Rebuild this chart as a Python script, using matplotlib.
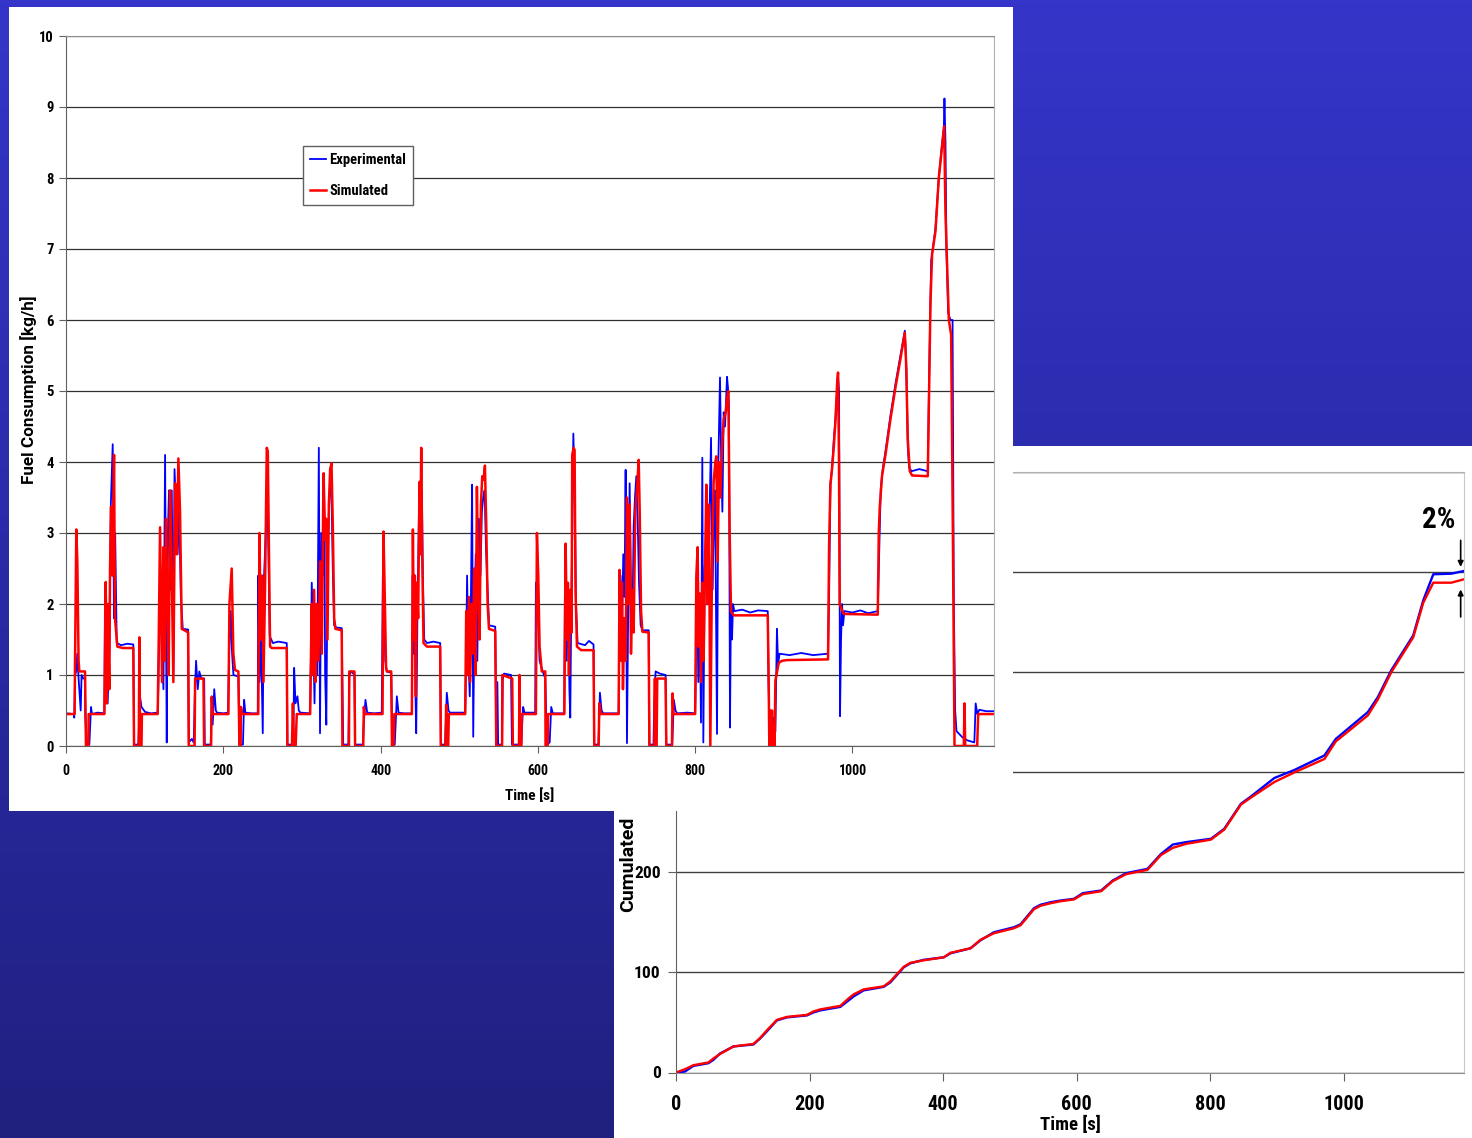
import numpy as np
import matplotlib.pyplot as plt
from matplotlib import font_manager
from matplotlib.patches import Rectangle
from matplotlib.colors import LinearSegmentedColormap

# condensed face for the numbers if one is installed, else plain Arial-like
installed = {f.name for f in font_manager.fontManager.ttflist}
narrow = next((n for n in ['Liberation Sans Narrow', 'Roboto Condensed', 'Open Sans Condensed']
               if n in installed), None)
if narrow:
    plt.rcParams['font.family'] = [narrow, 'DejaVu Sans']
    k = 1.0
else:
    plt.rcParams['font.family'] = ['Liberation Sans', 'DejaVu Sans']
    k = 0.88
plt.rcParams['font.weight'] = 'bold'
label_font = ['Roboto', 'Liberation Sans', 'DejaVu Sans']

# fuel consumption [kg/h] as (time [s], value) pairs
exp_ece1 = [(0, 0.46), (10, 0.45), (10.5, 0.40), (11.5, 1.0), (13, 1.05), (14.4, 1.3), (16, 0.95),
            (18.7, 0.5), (19.8, 1.0), (22, 0.95), (24, 0.95), (24.5, 0.45), (26, 0.02), (29.7, 0.02),
            (31.8, 0.55), (33, 0.45), (40, 0.47), (48.8, 0.46),
            (49.5, 2.0), (51, 2.1), (53, 0.6), (55, 1.3), (57, 3.4), (59.4, 4.25), (61, 1.8), (62.5, 3.0),
            (64.5, 1.45), (70, 1.42), (78, 1.44), (85.6, 1.43),
            (86.5, 0.02), (92, 0.02), (94, 0.7), (96, 0.55), (100.5, 0.48), (108, 0.46), (116.6, 0.47),
            (117.5, 0.85), (119.5, 2.3), (121.5, 1.5), (123.9, 0.8), (126, 4.1), (127, 2.0), (128.1, 0.05),
            (129.5, 3.0), (131, 3.6), (132.5, 2.2), (134.5, 3.6), (136.5, 1.0), (138, 3.9), (140, 3.3),
            (142, 2.7), (144, 3.4), (146, 2.1), (148.5, 1.65), (155.3, 1.64),
            (156.1, 0.05), (160, 0.1), (162.4, 0.05), (164, 0.8), (165.4, 1.2), (167.5, 0.8), (169.5, 1.05),
            (172, 0.95), (175.7, 0.95), (176.5, 0.02), (184, 0.02), (185.3, 0.7), (186.5, 0.3), (188.5, 0.8),
            (190.5, 0.5), (192, 0.47), (200, 0.46), (206, 0.47)]
exp_ece2 = [(207.4, 1.3), (209.5, 1.9), (211.2, 1.3), (212.9, 1.0), (219.2, 0.98), (220.5, 0.02), (225, 0.02),
            (226.5, 0.65), (228, 0.47), (236, 0.46), (243.8, 0.46),
            (244.5, 2.4), (246, 0.9), (248, 1.5), (250.2, 0.18), (251.5, 2.3), (254, 3.0), (255.5, 3.3),
            (257, 3.0), (259, 1.55), (263, 1.45), (270, 1.47), (280.7, 1.45),
            (281.5, 0.02), (289, 0.02), (290.1, 1.1), (291.8, 0.6), (294.3, 0.7), (296, 0.5), (298, 0.47),
            (310.4, 0.46),
            (311.5, 1.3), (312.5, 2.3), (314.5, 1.5), (316, 0.6), (317.8, 2.0), (319.5, 1.0), (321.5, 4.2),
            (323, 0.18), (324.5, 3.0), (326.5, 2.4), (328.2, 3.84), (329.5, 1.0), (331, 0.3), (332.8, 2.8),
            (335, 3.5), (337.4, 3.7), (339.2, 2.5), (341, 1.7), (343.5, 1.67), (350.6, 1.66),
            (351.5, 0.9), (352.5, 0.02), (359, 0.02), (360.2, 1.0), (363, 1.05), (366.8, 1.0), (367.6, 0.02),
            (377.4, 0.02), (378.5, 0.3), (380.8, 0.65), (383, 0.47), (392, 0.46), (401.5, 0.47)]
exp_ece3 = [(402.9, 2.4), (404.5, 2.0), (406, 1.2), (408, 1.05), (413.5, 1.03), (415, 0.02), (418, 0.02),
            (420.7, 0.7), (422.8, 0.47), (430, 0.46), (439.8, 0.46),
            (440.8, 2.4), (442, 1.3), (443.2, 2.4), (444.4, 0.7), (445.3, 0.18), (447, 2.0), (448.8, 3.3),
            (450.5, 3.46), (452.5, 3.6), (453.8, 2.4), (455.5, 1.5), (459, 1.45), (467, 1.47), (475.8, 1.45),
            (476.6, 0.02), (482, 0.02), (484.2, 0.75), (486.4, 0.5), (488, 0.47), (507.6, 0.47),
            (508.5, 1.0), (510, 2.4), (511.5, 1.3), (513.4, 0.7), (515, 2.2), (516.4, 3.68), (517.8, 0.13),
            (519.5, 2.0), (521, 2.7), (523, 1.2), (525, 3.2), (527, 2.4), (528.8, 3.3), (530.5, 3.5),
            (532.3, 3.6), (534, 2.8), (535.7, 2.3), (538, 1.7), (545.8, 1.68),
            (547.1, 0.02), (548.5, 0.9), (549.5, 0.02), (554.5, 0.02), (555.4, 0.95), (557, 1.02),
            (565.9, 1.0), (567, 0.02), (579, 0.02), (580, 0.3), (581.3, 0.55), (583, 0.47), (596.6, 0.47)]
exp_ece4 = [(597.5, 2.3), (599.6, 2.0), (602.2, 1.2), (604.7, 1.1), (609.4, 0.95), (611.6, 0.02), (615, 0.05),
            (617, 0.55), (619, 0.46), (633.6, 0.46),
            (634.5, 2.4), (636.7, 1.2), (638.4, 2.2), (640.1, 0.8), (641.2, 0.4), (642.5, 2.0), (643.7, 3.0),
            (645.1, 4.4), (646.7, 3.7), (648.4, 2.0), (650.5, 1.45), (660, 1.42), (665, 1.48), (670.8, 1.43),
            (671.7, 0.02), (677, 0.02), (678.9, 0.75), (681, 0.5), (683, 0.46), (702.7, 0.46),
            (703.5, 1.3), (705.2, 2.4), (706.9, 1.5), (708.6, 2.7), (710.2, 2.1), (711.6, 3.89), (713.3, 0.04),
            (715, 2.1), (716.7, 3.7), (718.4, 2.2), (720.1, 1.6), (721.8, 3.1), (723.5, 3.5), (725.2, 3.8),
            (726.9, 3.2), (728.6, 2.3), (730.7, 1.7), (733, 1.63), (740.9, 1.63),
            (741.8, 0.02), (747, 0.02), (748, 0.6), (749.7, 1.05), (755, 1.02), (762.4, 1.0), (763.3, 0.02),
            (770.9, 0.02), (772.9, 0.65), (775, 0.5), (777, 0.46), (790, 0.47), (800, 0.46)]
exp_eudc = [(800.8, 1.0), (802.3, 2.4), (804, 0.9), (805.7, 2.1), (807.4, 0.33), (809.1, 4.06), (810.4, 0.05),
            (812.1, 2.5), (813.8, 2.9), (815, 3.2), (816.8, 2.2), (818.5, 3.4), (820.2, 4.34), (821.9, 2.2),
            (823.5, 3.0), (825.2, 3.6), (826.1, 2.5), (827.8, 0.17), (829.5, 4.0), (831.6, 5.19), (833, 4.1),
            (834.6, 3.3), (836.3, 4.7), (838, 4.5), (840.5, 5.2), (841.7, 5.05), (843, 4.8), (844.3, 0.26),
            (845.6, 2.1), (846.9, 1.5), (848.1, 2.0), (849.8, 1.9), (860, 1.92), (870, 1.88), (880, 1.91),
            (892.3, 1.9),
            (893.3, 0.9), (894.5, 0.3), (898.2, 0.02), (899.9, 0.4), (902, 0.2), (904, 1.65), (905.5, 1.15),
            (907.3, 1.3), (920, 1.28), (935, 1.31), (950, 1.28), (969, 1.3),
            (970.3, 2.1), (972, 3.7), (974, 3.9), (976.2, 4.3), (978.4, 4.6), (980.5, 5.0), (981.7, 5.2),
            (983, 5.0), (984.2, 0.42), (985.5, 1.5), (986.8, 2.0), (988, 1.7), (989.8, 1.9), (1000, 1.88),
            (1010, 1.91), (1020, 1.87), (1032.2, 1.9),
            (1033.5, 2.5), (1036, 3.63), (1038.5, 3.9), (1042, 4.15), (1048.3, 4.65), (1054.7, 5.1),
            (1061, 5.5), (1066.6, 5.85), (1068.7, 5.3), (1070.4, 4.2), (1072, 3.93), (1075, 3.87),
            (1085, 3.9), (1095.8, 3.87),
            (1097.5, 5.2), (1100.1, 6.84), (1102.2, 7.0), (1105.6, 7.3), (1109.8, 8.0), (1114.1, 8.5),
            (1116.2, 8.7), (1117, 9.12), (1118.3, 8.5), (1119.5, 7.0), (1121.7, 6.1), (1124.6, 6.0),
            (1127.3, 6.0), (1128.9, 2.0), (1130.6, 0.5), (1132.3, 0.21), (1140, 0.12), (1145.9, 0.08),
            (1155, 0.05), (1156.7, 0.6), (1158.8, 0.45), (1161.3, 0.51), (1170, 0.49), (1180, 0.49)]

sim_ece1 = [(0, 0.45), (11, 0.45), (11.4, 1.07), (13.1, 3.05), (14.4, 2.6), (16, 1.2), (17, 1.05), (24.2, 1.05),
            (25.4, 0.0), (28.4, 0.0), (28.8, 0.45), (48.8, 0.45),
            (50.5, 2.31), (51.8, 0.6), (53, 2.0), (55.1, 0.8), (56, 2.5), (57.3, 3.37), (59, 2.4), (61.1, 4.1),
            (62.3, 1.8), (65.3, 1.4), (72, 1.38), (85.6, 1.38),
            (86.5, 0.0), (92.5, 0.0), (93.3, 1.53), (94.3, 0.0), (96, 0.0), (96.5, 0.45), (116.6, 0.45),
            (117.9, 1.5), (119.6, 3.08), (120.9, 2.0), (122.1, 0.9), (123.8, 2.8), (125.5, 1.2), (127.2, 3.2),
            (128.9, 2.0), (130.6, 1.0), (132.3, 3.6), (134.4, 2.5), (136.5, 0.9), (138.7, 3.7), (140.8, 2.7),
            (142.9, 4.05), (145, 3.3), (147.2, 1.65), (155.3, 1.6),
            (156.1, 0.0), (163.5, 0.0), (164.2, 0.95), (174.8, 0.95), (175.6, 0.0), (184.5, 0.0),
            (185.3, 0.69), (186.5, 0.45), (206.5, 0.45)]
sim_ece2 = [(207.8, 2.0), (210.7, 2.5), (212.8, 1.3), (214.9, 1.07), (219.2, 1.05), (220.5, 0.0), (222, 0.0),
            (222.5, 0.55), (224, 0.45), (243.8, 0.45),
            (244.5, 0.45), (246, 3.0), (247.8, 1.5), (249.4, 2.4), (251.1, 0.9), (253.2, 2.3), (255.3, 4.2),
            (256.6, 4.15), (258.3, 2.5), (259.5, 1.4), (261.6, 1.38), (280.7, 1.38),
            (281.5, 0.0), (287.3, 0.0), (288.5, 0.6), (289.7, 0.0), (292, 0.0), (293.4, 0.45), (310.4, 0.45),
            (312.5, 2.0), (313.8, 1.0), (315.5, 2.2), (317.2, 0.9), (318.9, 2.0), (321, 1.2), (323.1, 2.6),
            (325.3, 1.3), (327.4, 3.84), (329.5, 2.9), (330.8, 3.2), (332.5, 1.5), (334.2, 3.4), (335.9, 3.9),
            (337.6, 3.98), (339.3, 3.1), (341, 1.8), (342.6, 1.65), (350.6, 1.63),
            (351.5, 0.0), (359.8, 0.0), (360.2, 1.05), (366.8, 1.05), (367.6, 0.0), (378, 0.0),
            (378.7, 0.55), (380, 0.45), (402.5, 0.45)]
sim_ece3 = [(403.7, 3.02), (405, 2.3), (407, 1.1), (408, 1.05), (413.5, 1.05), (414.5, 0.0), (416.5, 0.0),
            (417.5, 0.45), (439.8, 0.45),
            (441.1, 3.05), (442.3, 1.5), (443.6, 2.4), (444.9, 0.7), (446.1, 2.3), (447.8, 1.8), (449.5, 3.72),
            (450.4, 2.7), (451.7, 4.2), (452.9, 2.7), (454.6, 1.45), (458.9, 1.4), (475.8, 1.4),
            (476.6, 0.0), (482.5, 0.0), (483.4, 0.58), (484.5, 0.0), (486, 0.0), (486.8, 0.45), (507.6, 0.45),
            (508.9, 1.9), (510.6, 1.0), (512.3, 2.1), (514, 0.9), (515.7, 2.0), (517.4, 1.3), (519.1, 2.5),
            (520.8, 1.0), (522.5, 3.65), (524.2, 2.2), (525.9, 1.5), (527.6, 3.4), (529.3, 3.8), (531, 3.75),
            (532.7, 3.95), (534.4, 3.1), (536.1, 2.0), (537.8, 1.65), (545.8, 1.62),
            (547.1, 0.0), (554.5, 0.0), (554.8, 1.0), (567.4, 0.95), (568.2, 0.0), (576, 0.0), (576.7, 1.0),
            (577.5, 0.0), (579, 0.0), (579.5, 0.45), (597.5, 0.45)]
sim_ece4 = [(598.8, 3.0), (600.5, 2.4), (602.2, 1.4), (605, 1.05), (609.4, 1.05), (609.8, 0.0), (612.4, 0.0),
            (613, 0.45), (633.6, 0.45),
            (635.3, 2.85), (637, 1.5), (638.2, 2.3), (639.5, 1.0), (641.2, 2.2), (642.9, 1.6), (643.7, 4.1),
            (645.4, 4.2), (646.7, 4.17), (647.9, 2.2), (649.7, 1.4), (655, 1.35), (670.8, 1.35),
            (671.7, 0.0), (677.3, 0.0), (678.1, 0.6), (680, 0.45), (702.7, 0.45),
            (703.9, 2.48), (705.6, 1.2), (706.9, 2.3), (708.2, 0.8), (709.9, 1.8), (711.6, 1.2), (713.3, 3.5),
            (715, 2.0), (716.7, 3.4), (718.4, 1.3), (720.1, 2.2), (721.8, 1.6), (723.9, 3.3), (726, 3.6),
            (728.2, 4.03), (729.5, 3.3), (731.2, 1.9), (732.9, 1.61), (740.9, 1.6),
            (741.8, 0.0), (748, 0.0), (748.8, 0.95), (749.5, 0.0), (751, 0.0), (751.8, 0.95), (762.4, 0.95),
            (763.3, 0.0), (770.5, 0.0), (771.3, 0.74), (772.5, 0.45), (800, 0.45)]
sim_eudc = [(801.5, 2.4), (803.2, 2.8), (804.5, 1.4), (805.7, 2.15), (807.4, 0.9), (809.1, 2.3), (810.8, 1.2),
            (812.5, 2.5), (814.2, 3.68), (815.9, 2.0), (817.6, 3.4), (819.3, 0.0), (821.5, 2.6), (823.5, 3.72),
            (825.7, 4.0), (826.9, 4.08), (828.6, 2.6), (830.3, 4.0), (832, 3.5), (834.2, 4.2), (836.3, 4.6),
            (838.9, 4.7), (840.5, 4.9), (842.2, 5.0), (843.9, 3.0), (845.6, 1.89), (849, 1.84), (892.3, 1.84),
            (893.5, 0.9), (894.3, 0.0), (895.6, 0.5), (896.5, 0.0), (897.7, 0.5), (898.5, 0.0), (899.9, 0.3),
            (901, 0.0), (902, 0.92), (904.2, 1.05), (906.3, 1.17), (910.5, 1.2), (916.9, 1.21), (969, 1.22),
            (970.3, 2.83), (972, 3.68), (974, 3.9), (976.2, 4.2), (978.4, 4.58), (980.5, 5.1), (981.7, 5.26),
            (982.9, 4.0), (983.8, 2.0), (985.5, 1.95), (989, 1.86), (1032.2, 1.85),
            (1033.5, 3.0), (1034.7, 3.36), (1037.7, 3.81), (1042, 4.1), (1048.3, 4.6), (1054.7, 5.05),
            (1061, 5.45), (1066.6, 5.82), (1068.2, 5.4), (1070.4, 4.32), (1072.9, 3.87), (1075.9, 3.81),
            (1095.8, 3.8), (1097.5, 5.0), (1099.2, 6.24), (1101.3, 6.93), (1105.6, 7.25), (1109.8, 8.0),
            (1114.1, 8.46), (1116.6, 8.73), (1118.3, 7.5), (1120.4, 6.78), (1122.6, 6.0), (1125.5, 5.79),
            (1127.7, 3.0), (1129.8, 0.0), (1141.6, 0.0), (1142.5, 0.6), (1143.4, 0.0), (1158.6, 0.0),
            (1159.9, 0.45), (1180, 0.45)]

# cumulated fuel
cum_time = [0, 13.5, 26, 48.5, 56, 66, 86, 116, 126, 136, 151, 166, 196, 206, 216, 246, 258.5, 266, 281,
            311, 321, 341, 351, 371, 401, 411, 441, 456, 476, 506, 516, 536, 546, 561, 576, 596, 609,
            636.6, 654, 674, 706, 726, 744, 764, 801, 821, 846, 861, 896, 926, 971, 988, 1036, 1051,
            1071, 1104, 1119, 1134, 1161, 1180]
cum_exp = [0, 1, 6.6, 9.3, 12.6, 19, 26, 28, 34, 41, 52, 55, 57, 60, 62, 65.5, 72, 76, 82, 85.5, 90,
           105, 109, 112.5, 115, 119, 124, 132, 140, 145, 148, 164, 167.5, 170, 171.7, 173.4, 179, 181.7,
           191.7, 199, 203.3, 218, 227.6, 230, 233.3, 243.3, 268.3, 275.6, 294, 302, 316.5, 333, 359.8,
           374.8, 401.5, 436.4, 471.4, 497.4, 498, 500.7]
cum_sim = [0, 3.3, 7.3, 10, 14, 18.5, 26, 28.5, 34.5, 42, 52.5, 55.5, 57.5, 61, 63, 66.5, 74, 78, 83, 86,
           91, 105.5, 109.5, 112, 115, 119.5, 124, 132.5, 139, 144, 147, 163, 166.5, 169, 171, 172.8, 178,
           181, 191, 198, 202.3, 217, 224.3, 228.3, 232.5, 242.5, 267.5, 274.5, 290, 299.6, 313, 330.5,
           356.5, 372.5, 399.5, 434.5, 469, 489, 489, 492.4]

W, H = 1472, 1138


def fx(px):
    return px / W


def fy(py):
    return 1 - py / H


exp_t, exp_fc = np.array(exp_ece1 + exp_ece2 + exp_ece3 + exp_ece4 + exp_eudc).T
sim_t, sim_fc = np.array(sim_ece1 + sim_ece2 + sim_ece3 + sim_ece4 + sim_eudc).T

fig = plt.figure(figsize=(W / 100, H / 100), dpi=100)

# slide background
ax_bg = fig.add_axes([0, 0, 1, 1], zorder=0)
cmap = LinearSegmentedColormap.from_list('slide', ['#3535c9', '#2a2aa8', '#20207f'])
ax_bg.imshow(np.linspace(0, 1, 256).reshape(-1, 1), aspect='auto', cmap=cmap, extent=[0, 1, 0, 1])
ax_bg.axis('off')

# lower panel : cumulated
fig.add_artist(Rectangle((fx(614), 0), (W - 614) / W, (H - 446) / H, transform=fig.transFigure,
                         facecolor='white', edgecolor='none', zorder=1))
ax2 = fig.add_axes([fx(676), fy(1072.5), (1464 - 676) / W, (1072.5 - 471.5) / H], zorder=2)
ax2.set_facecolor('none')
ax2.plot(cum_time, cum_exp, color='#0000ff', lw=1.7)
ax2.plot(cum_time, cum_sim, color='#ff0000', lw=1.7)
ax2.set_xlim(0, 1180)
ax2.set_ylim(0, 600)
ax2.set_xticks([0, 200, 400, 600, 800, 1000])
ax2.set_yticks([0, 100, 200, 300, 400, 500, 600])
ax2.yaxis.grid(True, color='#404040', lw=1)
ax2.set_axisbelow(True)
ax2.spines['left'].set_color('#606060')
ax2.spines['bottom'].set_color('#909090')
ax2.spines['top'].set_color('#b0b0b0')
ax2.spines['right'].set_color('#c8c8c8')
ax2.tick_params(axis='x', direction='out', length=6, color='#606060', pad=10, labelsize=14.5 * k)
ax2.tick_params(axis='y', direction='out', length=6, color='#606060', pad=5, labelsize=12.5 * k)
ax2.text(1141.8, 552, '2%', ha='center', va='center', fontsize=21 * k, fontweight='bold')
ax2.annotate('', xy=(1175, 502), xytext=(1175, 534),
             arrowprops=dict(arrowstyle='-|>', color='black', lw=1.2, mutation_scale=8))
ax2.annotate('', xy=(1175, 485), xytext=(1175, 452),
             arrowprops=dict(arrowstyle='-|>', color='black', lw=1.2, mutation_scale=8))
fig.text(fx(1070), fy(1125), 'Time [s]', ha='center', va='center', fontsize=13.5 * k,
         fontweight='bold', zorder=2)
fig.text(fx(628), fy(912), 'Cumulated', rotation=90, ha='center', va='bottom',
         family=label_font, fontsize=14, fontweight='bold', zorder=2)

# upper panel : fuel consumption
fig.add_artist(Rectangle((fx(9), fy(811)), (1013 - 9) / W, (811 - 7) / H, transform=fig.transFigure,
                         facecolor='white', edgecolor='none', zorder=3))
ax = fig.add_axes([fx(66), fy(746), (994 - 66) / W, (746 - 36) / H], zorder=4)
ax.set_facecolor('none')
ax.plot(exp_t, exp_fc, color='#0000ff', lw=1.3, label='Experimental')
ax.plot(sim_t, sim_fc, color='#ff0000', lw=1.8, label='Simulated')
ax.set_xlim(0, 1180)
ax.set_ylim(0, 10)
ax.set_xticks([0, 200, 400, 600, 800, 1000])
ax.set_yticks(range(0, 11))
ax.yaxis.grid(True, color='#303030', lw=0.9)
ax.set_axisbelow(True)
ax.spines['left'].set_color('#606060')
ax.spines['bottom'].set_color('#606060')
ax.spines['top'].set_color('#909090')
ax.spines['right'].set_color('#b0b0b0')
ax.tick_params(axis='x', direction='out', length=5, color='#606060', pad=8, labelsize=10 * k)
ax.tick_params(axis='y', direction='out', length=5, color='#606060', pad=4, labelsize=10.5 * k)
ax.legend(loc='upper left', bbox_to_anchor=((303 - 66) / 928, (746 - 146) / 710), borderaxespad=0,
          fancybox=False, framealpha=1, edgecolor='#606060', fontsize=10.5 * k, handlelength=1.1,
          handletextpad=0.2, labelspacing=1.15, borderpad=0.5)
fig.text(fx(530), fy(795.5), 'Time [s]', ha='center', va='center', fontsize=11 * k,
         fontweight='bold', zorder=5)
fig.text(fx(29), fy(390), 'Fuel Consumption [kg/h]', rotation=90, ha='center', va='center',
         family=label_font, fontsize=12.3, fontweight='bold', zorder=5)

fig.savefig('out.png', dpi=100)
